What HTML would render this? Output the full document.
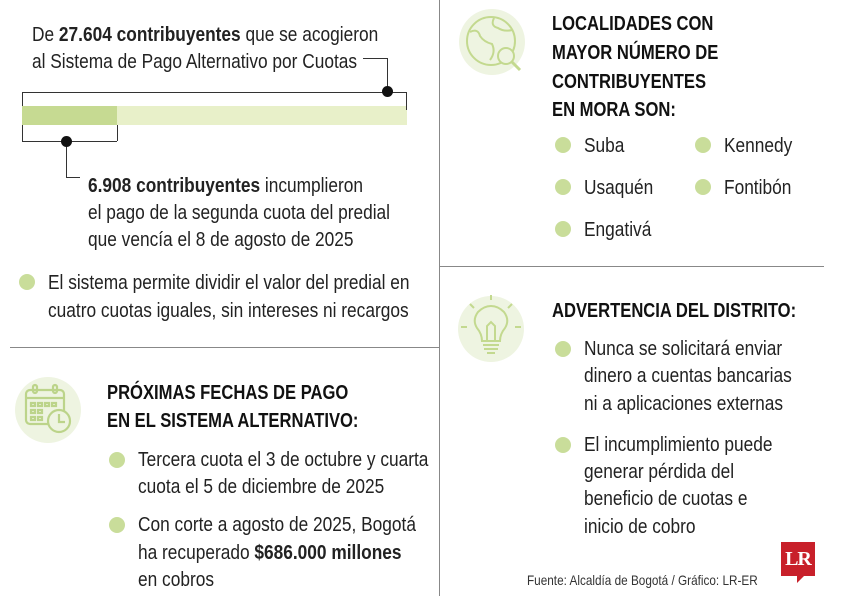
<!DOCTYPE html>
<html><head><meta charset="utf-8"><style>
body{margin:0;background:#fff;}
#c{position:relative;width:843px;height:613px;overflow:hidden;background:#fff;font-family:"Liberation Sans",sans-serif;color:#222;}
.t{position:absolute;white-space:nowrap;font-size:20px;line-height:20px;transform:scaleX(.865);transform-origin:0 0;margin-top:-1px;}
.h{position:absolute;white-space:nowrap;font-size:20px;line-height:20px;font-weight:bold;color:#111;transform:scaleX(.83);transform-origin:0 0;}
.b{position:absolute;width:16px;height:16px;border-radius:50%;background:#c9dd9a;}
.ln{position:absolute;background:#333;}
</style></head><body><div id="c">
<div style="position:absolute;left:439px;top:0;width:1px;height:596px;background:#888"></div>
<div style="position:absolute;left:10px;top:347px;width:430px;height:1px;background:#888"></div>
<div style="position:absolute;left:440px;top:266px;width:384px;height:1px;background:#888"></div>

<div class="t" style="left:32px;top:26px">De <b>27.604 contribuyentes</b> que se acogieron</div>
<div class="t" style="left:32px;top:53px">al Sistema de Pago Alternativo por Cuotas</div>
<div style="position:absolute;left:22px;top:106px;width:385px;height:19px;background:#e8f0c9"></div>
<div style="position:absolute;left:22px;top:106px;width:95px;height:19px;background:#c6da92"></div>
<div class="ln" style="left:22px;top:92px;width:385px;height:1px"></div>
<div class="ln" style="left:22px;top:92px;width:1px;height:14px"></div>
<div class="ln" style="left:406px;top:92px;width:1px;height:18px"></div>
<div class="ln" style="left:387px;top:58px;width:1px;height:34px"></div>
<div class="ln" style="left:363px;top:58px;width:25px;height:1px"></div>
<div style="position:absolute;left:382px;top:86px;width:11px;height:11px;border-radius:50%;background:#111"></div>
<div class="ln" style="left:22px;top:141px;width:95px;height:1px"></div>
<div class="ln" style="left:22px;top:125px;width:1px;height:16px"></div>
<div class="ln" style="left:117px;top:125px;width:1px;height:16px"></div>
<div class="ln" style="left:66px;top:141px;width:1px;height:37px"></div>
<div class="ln" style="left:66px;top:177px;width:14px;height:1px"></div>
<div style="position:absolute;left:61px;top:136px;width:11px;height:11px;border-radius:50%;background:#111"></div>
<div class="t" style="left:88px;top:177px"><b>6.908 contribuyentes</b> incumplieron</div>
<div class="t" style="left:88px;top:204px">el pago de la segunda cuota del predial</div>
<div class="t" style="left:88px;top:231px">que vencía el 8 de agosto de 2025</div>
<div class="b" style="left:19px;top:274px"></div>
<div class="t" style="left:48px;top:274px">El sistema permite dividir el valor del predial en</div>
<div class="t" style="left:48px;top:302px">cuatro cuotas iguales, sin intereses ni recargos</div>

<svg style="position:absolute;left:14px;top:376px" width="68" height="68" viewBox="0 0 68 68">
<circle cx="34" cy="34" r="33" fill="#eef4e1"/>
<g fill="none" stroke="#bcd48a" stroke-width="2.2">
<rect x="12" y="14" width="38" height="34" rx="4"/><line x1="12" y1="22" x2="50" y2="22"/>
<rect x="19" y="9" width="4" height="8" rx="2"/><rect x="39" y="9" width="4" height="8" rx="2"/>
<rect x="17" y="27" width="4" height="3"/><rect x="24" y="27" width="4" height="3"/><rect x="31" y="27" width="4" height="3"/><rect x="38" y="27" width="4" height="3"/>
<rect x="17" y="34" width="4" height="3"/><rect x="24" y="34" width="4" height="3"/>
<rect x="17" y="41" width="4" height="3"/><rect x="24" y="41" width="4" height="3"/>
<circle cx="45" cy="45" r="11" fill="#eef4e1"/><polyline points="45,38 45,46 51,46"/></g></svg>
<div class="h" style="left:107px;top:383px">PRÓXIMAS FECHAS DE PAGO</div>
<div class="h" style="left:107px;top:411px">EN EL SISTEMA ALTERNATIVO:</div>
<div class="b" style="left:109px;top:452px"></div>
<div class="t" style="left:138px;top:451px">Tercera cuota el 3 de octubre y cuarta</div>
<div class="t" style="left:138px;top:478px">cuota el 5 de diciembre de 2025</div>
<div class="b" style="left:109px;top:517px"></div>
<div class="t" style="left:138px;top:516px">Con corte a agosto de 2025, Bogotá</div>
<div class="t" style="left:138px;top:544px">ha recuperado <b>$686.000 millones</b></div>
<div class="t" style="left:138px;top:571px">en cobros</div>

<svg style="position:absolute;left:458px;top:8px" width="70" height="70" viewBox="0 0 70 70">
<circle cx="34" cy="34" r="33" fill="#eef4e1"/>
<g fill="none" stroke="#c3d98f" stroke-width="2">
<circle cx="33" cy="33" r="24"/>
<path d="M12 24 Q20 20 22 28 Q26 34 34 36 Q38 44 32 52"/>
<path d="M36 10 Q32 18 40 20 Q46 24 54 22"/>
<circle cx="48" cy="48" r="8" fill="#eef4e1"/><line x1="54" y1="54" x2="62" y2="62" stroke-width="3"/></g></svg>
<div class="h" style="left:552px;top:14px">LOCALIDADES CON</div>
<div class="h" style="left:552px;top:43px">MAYOR NÚMERO DE</div>
<div class="h" style="left:552px;top:72px">CONTRIBUYENTES</div>
<div class="h" style="left:552px;top:100px">EN MORA SON:</div>
<div class="b" style="left:555px;top:137px"></div><div class="t" style="left:584px;top:137px">Suba</div>
<div class="b" style="left:695px;top:137px"></div><div class="t" style="left:724px;top:137px">Kennedy</div>
<div class="b" style="left:555px;top:179px"></div><div class="t" style="left:584px;top:179px">Usaquén</div>
<div class="b" style="left:695px;top:179px"></div><div class="t" style="left:724px;top:179px">Fontibón</div>
<div class="b" style="left:555px;top:221px"></div><div class="t" style="left:584px;top:221px">Engativá</div>

<svg style="position:absolute;left:456px;top:294px" width="70" height="70" viewBox="0 0 70 70">
<circle cx="35" cy="35" r="33" fill="#eef4e1"/>
<g fill="none" stroke="#c3d98f" stroke-width="2">
<path d="M26 47 Q26 40 21 34 Q16 26 22 18 Q28 12 35 12 Q42 12 48 18 Q54 26 49 34 Q44 40 44 47 Z"/>
<line x1="27" y1="51" x2="43" y2="51"/><line x1="28" y1="55" x2="42" y2="55"/><line x1="31" y1="59" x2="39" y2="59"/>
<line x1="35" y1="1" x2="35" y2="6"/><line x1="14" y1="10" x2="18" y2="14"/><line x1="56" y1="10" x2="52" y2="14"/>
<line x1="5" y1="33" x2="11" y2="33"/><line x1="59" y1="33" x2="65" y2="33"/>
<path d="M31 46 L31 32 L35 28 L39 32 L39 46"/></g></svg>
<div class="h" style="left:552px;top:301px">ADVERTENCIA DEL DISTRITO:</div>
<div class="b" style="left:555px;top:341px"></div>
<div class="t" style="left:584px;top:340px">Nunca se solicitará enviar</div>
<div class="t" style="left:584px;top:367px">dinero a cuentas bancarias</div>
<div class="t" style="left:584px;top:395px">ni a aplicaciones externas</div>
<div class="b" style="left:555px;top:437px"></div>
<div class="t" style="left:584px;top:436px">El incumplimiento puede</div>
<div class="t" style="left:584px;top:463px">generar pérdida del</div>
<div class="t" style="left:584px;top:490px">beneficio de cuotas e</div>
<div class="t" style="left:584px;top:518px">inicio de cobro</div>

<div class="t" style="left:527px;top:574px;font-size:14px;line-height:14px;color:#333;transform:scaleX(.84)">Fuente: Alcaldía de Bogotá / Gráfico: LR-ER</div>
<div style="position:absolute;left:781px;top:542px;width:34px;height:34px;background:#c8202a;color:#fff;font-family:'Liberation Serif',serif;font-weight:bold;font-size:20px;line-height:34px;text-align:center;letter-spacing:-1px">LR</div>
<div style="position:absolute;left:797px;top:576px;width:0;height:0;border-right:7px solid transparent;border-top:7px solid #c8202a"></div>
</div></body></html>
